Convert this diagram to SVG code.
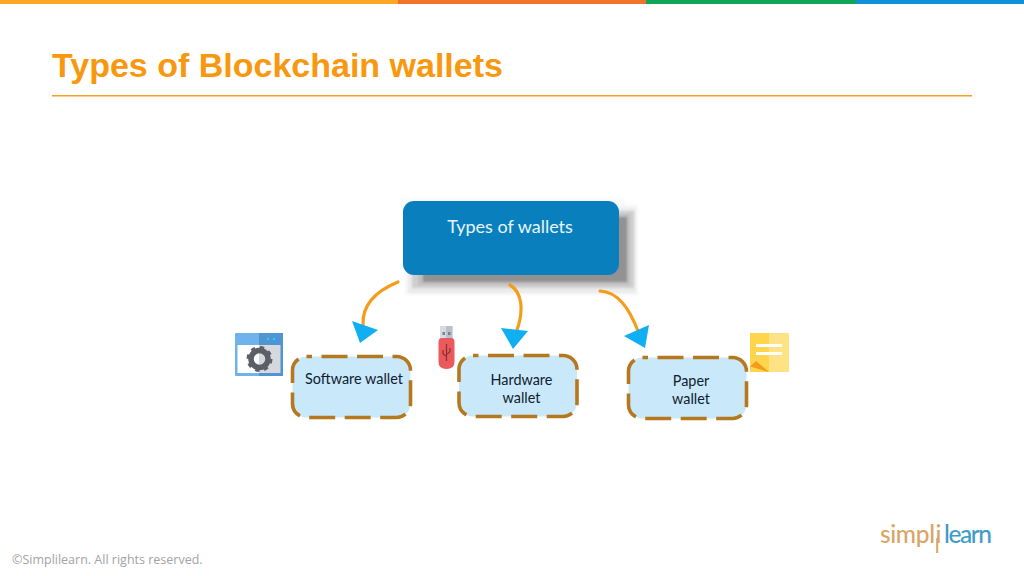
<svg xmlns="http://www.w3.org/2000/svg" width="1024" height="576" viewBox="0 0 1024 576">
<defs><filter id="soft" x="-10%" y="-10%" width="120%" height="120%"><feGaussianBlur stdDeviation="1.300"/></filter></defs>
<style>
.b{font-family:"Lato","Open Sans","Liberation Sans",sans-serif;font-size:14.400px;fill:#10202e;text-anchor:middle}
.dash{fill:#c9e9fb;stroke:#b5781f;stroke-width:3.6;stroke-dasharray:26 9.500;stroke-dashoffset:20.500}
.conn{fill:none;stroke:#f49d1c;stroke-width:3.2;stroke-linecap:round}
.head{fill:#10aef2}
.sh{fill:#000}
</style>
<rect width="1024" height="576" fill="#fff"/>
<g id="topbar">
<rect x="0" y="0" width="398" height="4" fill="#fca726"/>
<rect x="398" y="0" width="248" height="4" fill="#f2712b"/>
<rect x="646" y="0" width="210" height="4" fill="#10a558"/>
<rect x="856" y="0" width="168" height="4" fill="#0f90d8"/>
</g>
<g id="title">
<text x="52" y="77" font-family="'Liberation Sans',Arial,sans-serif" font-weight="700" font-size="34" fill="#f7980f">Types of Blockchain wallets</text>
<rect x="52" y="95" width="920" height="1.500" fill="#f5a020"/>
</g>
<g id="node-root">
<g class="sh" filter="url(#soft)">
<rect x="401" y="198" width="224" height="8" opacity=".02"/>
<rect x="405" y="205" width="233" height="90" opacity=".03"/>
<rect x="408" y="208" width="228" height="85" opacity=".05"/>
<rect x="412" y="211" width="222" height="77" opacity=".12"/>
<rect x="418" y="214" width="212" height="71" opacity=".08"/>
<rect x="423" y="217" width="204" height="65" opacity=".24"/>
</g>
<rect x="403" y="201" width="216" height="74" rx="11" fill="#0980bd"/>
<text x="510" y="233" font-family="Lato,'Open Sans',sans-serif" font-size="18" fill="#e8f5fc" text-anchor="middle">Types of wallets</text>
</g>
<g id="connectors">
<path class="conn" d="M398,282 C376,291 362,305 363,325"/>
<path class="conn" d="M510,285 C522,292 524,310 517,330"/>
<path class="conn" d="M600,291 C618,292 629,308 638,331"/>
<polygon class="head" points="352,321 378,330 360,343"/>
<polygon class="head" points="501,328 528,331 513,349"/>
<polygon class="head" points="649,325 624,336 645,348"/>
</g>
<g id="node-software">
<rect class="dash" x="292.500" y="356.500" width="118" height="61" rx="14"/>
<text class="b" x="354" y="384">Software wallet</text>
</g>
<g id="node-hardware">
<rect class="dash" x="459" y="355.500" width="118" height="61" rx="14"/>
<text class="b" x="521.500" y="385">Hardware</text>
<text class="b" x="521.500" y="403">wallet</text>
</g>
<g id="node-paper">
<rect class="dash" x="628.500" y="357.500" width="118" height="61" rx="14"/>
<text class="b" x="691" y="386">Paper</text>
<text class="b" x="691" y="404">wallet</text>
</g>
<g id="icon-software">
<rect x="235" y="333" width="48" height="43" rx="1" fill="#6fb3ec"/>
<rect x="259" y="333" width="24" height="43" fill="#4f95d3"/>
<rect x="237.500" y="345" width="21.500" height="28" fill="#fff"/>
<rect x="259" y="345" width="21.500" height="28" fill="#d5d8dc"/>
<circle cx="268" cy="339" r="1.300" fill="#37c6e8"/><circle cx="274" cy="339" r="1.300" fill="#37c6e8"/>
<circle cx="259.500" cy="359" r="8.500" fill="none" stroke="#5c5f66" stroke-width="5.500"/>
<circle cx="259.500" cy="359" r="11.500" fill="none" stroke="#5c5f66" stroke-width="3" stroke-dasharray="4.300 4.730"/>
</g>
<g id="icon-usb">
<rect x="440" y="326" width="12.500" height="13" fill="#d6dbe3"/>
<rect x="446" y="326" width="6.500" height="13" fill="#b9c0cc"/>
<rect x="442.500" y="332" width="2.500" height="3" fill="#7b828e"/><rect x="448" y="332" width="2.500" height="3" fill="#7b828e"/>
<path d="M438.500,342 Q438.500,338 442,338 H451 Q454.500,338 454.500,342 V362 Q454.500,369 446.500,369 Q438.500,369 438.500,362 Z" fill="#ea5a5c"/>
<path d="M446.500,344 V361 M443,350 V353 Q443,355 446.500,356 M450,348 V351 Q450,353 446.500,354" fill="none" stroke="#8f2b33" stroke-width="1.200"/>
</g>
<g id="icon-note">
<rect x="750" y="333" width="20" height="39" fill="#ffd54c"/>
<rect x="769" y="333" width="20" height="39" fill="#ffe283"/>
<rect x="756" y="344" width="26" height="3" fill="#fff"/>
<rect x="756" y="352" width="26" height="3" fill="#fff"/>
<polygon points="750,366.500 756,361 769,372" fill="#f49b1c"/>
</g>
<g id="footer">
<text x="12" y="564" font-family="'Open Sans',sans-serif" font-size="12.500" fill="#a3a3a3">©Simplilearn. All rights reserved.</text>
</g>
<g id="logo">
<rect x="936.200" y="538" width="2" height="15" fill="#d9a566"/>
<text y="543" font-family="Lato,'Open Sans',sans-serif" font-size="24.500" font-weight="500" fill="#d9a566"><tspan x="880" textLength="55">simpl</tspan><tspan x="935.500">i</tspan><tspan x="944" fill="#3f9cc9" textLength="48">learn</tspan></text>
</g>
</svg>
